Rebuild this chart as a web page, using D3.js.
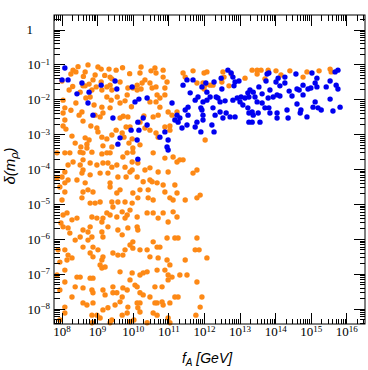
<!DOCTYPE html>
<html>
<head>
<meta charset="utf-8">
<script src="https://cdn.jsdelivr.net/npm/d3@7"></script>
<style>
  body { margin: 0; background: #fff; }
</style>
</head>
<body>
<svg id="chart" width="368" height="370"></svg>
<script>
// tick exponents
const xTickExps = [8, 9, 10, 11, 12, 13, 14, 15, 16];
const yTickExps = [0, -1, -2, -3, -4, -5, -6, -7, -8];

// [log10 fA, log10 delta]
const orangePoints = [
  [8.00,-1.46],[8.20,-1.72],[8.31,-1.15],[8.25,-1.26],[8.39,-1.20],[8.65,-1.20],[8.73,-1.00],[8.93,-1.29],[8.87,-1.43],[9.01,-1.06],
  [9.10,-1.12],[9.32,-1.12],[9.52,-1.15],[8.76,-1.55],[8.65,-1.60],[8.79,-1.92],[8.67,-1.95],[8.51,-1.78],[8.39,-2.09],[8.56,-2.35],
  [8.48,-2.44],[8.59,-2.61],[8.81,-2.75],[8.98,-2.81],[8.93,-2.44],[9.07,-2.49],[9.15,-2.38],[9.12,-2.21],[9.35,-2.23],[9.38,-2.01],
  [9.26,-1.92],[9.12,-1.72],[9.10,-1.49],[9.26,-1.63],[9.40,-1.72],[9.35,-1.58],[8.96,-1.63],[8.84,-1.72],[8.08,-2.58],[8.03,-2.75],
  [8.11,-2.84],[8.28,-3.04],[8.65,-3.09],[8.70,-3.27],[8.70,-3.38],[8.84,-3.50],[9.12,-3.07],[9.15,-3.32],[9.12,-3.55],[9.26,-3.52],
  [9.40,-3.35],[9.71,-3.64],[9.83,-3.52],[9.88,-3.24],[9.97,-3.12],[10.19,-3.29],[9.99,-3.38],[9.74,-3.07],[9.69,-2.95],[9.63,-2.52],
  [9.85,-2.49],[9.72,-2.47],[9.91,-2.78],[9.80,-2.78],[9.63,-2.09],[9.77,-2.03],[9.83,-1.86],[9.85,-1.66],[9.99,-1.66],[10.11,-1.58],
  [10.19,-1.23],[10.22,-1.06],[10.25,-1.52],[10.22,-1.69],[10.33,-1.43],[10.47,-1.52],[10.53,-1.66],[10.64,-1.63],[10.67,-1.86],[10.75,-1.95],
  [10.64,-2.06],[10.47,-2.06],[10.50,-1.17],[10.61,-1.09],[10.64,-1.23],[10.84,-1.15],[10.84,-1.35],[10.95,-1.49],[10.89,-1.66],[10.89,-1.86],
  [10.75,-2.21],[10.70,-2.44],[10.56,-2.49],[10.30,-2.46],[10.19,-2.64],[10.33,-2.81],[10.47,-2.87],[10.64,-2.95],[10.70,-3.07],[10.98,-2.35],
  [10.89,-2.78],[11.03,-2.75],[11.03,-2.87],[11.09,-2.44],[11.23,-2.35],[11.40,-1.23],[11.46,-1.35],[11.68,-1.17],[11.79,-1.52],[11.99,-1.23],
  [12.02,-1.58],[9.52,-2.87],[9.40,-3.01],[9.26,-3.12],[9.01,-2.92],[8.76,-3.15],[8.53,-3.35],[8.37,-3.24],[8.22,-3.52],[8.08,-3.52],
  [10.11,-1.72],[9.35,-1.35],[9.40,-1.40],[9.63,-1.49],[8.03,-2.01],[8.08,-2.23],[8.03,-2.38],[8.59,-1.60],
  [8.45,-1.05],[8.60,-1.33],[9.20,-1.30],[9.70,-1.08],[9.90,-1.25],[8.30,-1.62],[9.55,-1.92],[9.95,-2.20],[8.90,-2.15],[8.25,-2.30],
  [12.07,-1.20],[11.96,-1.52],[11.99,-1.69],[12.16,-1.58],[12.24,-1.58],[12.52,-1.20],[12.49,-1.49],[12.55,-1.35],[12.75,-1.26],[12.69,-1.60],
  [13.14,-1.38],[13.34,-1.15],[13.48,-1.15],[13.59,-1.15],[13.48,-1.26],[13.70,-1.40],[13.79,-1.15],[14.01,-1.17],[14.15,-1.29],[14.40,-1.17],
  [14.77,-1.35],[14.88,-1.20],[15.22,-1.17],[15.53,-1.12],[15.56,-1.20],[12.02,-3.15],
  [7.86,-3.52],[8.51,-3.50],[8.59,-3.52],[9.35,-3.52],[9.99,-3.50],[10.56,-3.52],[10.89,-3.67],[11.12,-3.64],[11.31,-3.72],[9.97,-3.78],
  [10.13,-3.81],[9.15,-3.81],[8.59,-3.72],[8.31,-3.78],[8.17,-3.87],[8.51,-3.87],[8.79,-3.81],[8.98,-3.87],[9.29,-3.81],[9.40,-3.93],
  [9.54,-3.87],[9.77,-3.93],[9.97,-4.01],[9.91,-4.07],[10.33,-4.01],[10.47,-3.95],[10.70,-4.07],[10.98,-4.07],[11.23,-3.78],[11.40,-3.72],
  [11.68,-4.10],[11.79,-4.01],[8.08,-4.07],[8.00,-4.21],[8.59,-4.01],[8.56,-4.10],[8.79,-4.15],[9.07,-4.10],[9.29,-4.10],[9.57,-4.21],
  [9.80,-4.21],[10.11,-4.21],[8.17,-4.30],[8.42,-4.30],[7.86,-4.24],[8.08,-4.38],[7.94,-4.50],[8.08,-4.64],[8.00,-4.87],[8.65,-4.38],
  [8.73,-4.58],[8.59,-4.64],[8.56,-4.81],[8.87,-4.64],[8.93,-4.96],[9.07,-4.93],[9.35,-4.38],[9.35,-4.50],[9.54,-4.67],[9.63,-4.58],
  [9.40,-4.93],[9.43,-5.07],[9.57,-4.93],[9.77,-4.93],[9.97,-4.96],[9.99,-4.67],[10.19,-4.58],[10.13,-4.81],[10.28,-4.35],[10.47,-4.30],
  [10.53,-4.35],[10.67,-4.38],[10.42,-4.58],[10.42,-4.81],[10.56,-4.87],[10.84,-4.44],[10.89,-4.64],[11.17,-4.44],[11.03,-4.81],[11.12,-4.87],
  [11.23,-4.67],[11.46,-4.87],[11.88,-4.73],[11.79,-4.81],[8.14,-5.24],[8.03,-5.30],[8.42,-5.39],[8.84,-5.36],[8.98,-5.39],[9.12,-5.50],
  [9.15,-5.39],[9.26,-5.24],[9.35,-5.30],[9.54,-5.36],[9.69,-5.21],[9.91,-5.16],[9.83,-5.30],[9.77,-5.39],[10.11,-5.36],[10.39,-5.24],
  [10.56,-5.24],[10.70,-5.39],[10.84,-5.24],[11.12,-5.21],[11.23,-5.36],[10.98,-5.50],[8.79,-4.96],[8.28,-5.44],[8.03,-5.64],[8.17,-5.67],
  [8.22,-5.82],[8.37,-6.02],[8.59,-5.73],[8.51,-5.93],[8.59,-6.22],[8.73,-5.79],[8.79,-5.64],[8.73,-6.02],[8.84,-5.93],[9.12,-5.79],
  [9.15,-5.93],[9.29,-5.64],[9.57,-5.73],[9.69,-5.87],[9.85,-5.67],[10.11,-5.64],[10.13,-5.73],[9.99,-6.07],[9.91,-6.16],[9.99,-6.25],
  [9.77,-6.30],[9.57,-6.45],[10.19,-6.30],[10.39,-6.30],[10.56,-6.07],[10.67,-6.22],[10.75,-6.22],[10.95,-5.96],[11.17,-5.96],[11.26,-5.96],
  [11.79,-5.96],[11.74,-6.30],[11.85,-6.30],[12.07,-6.53],[11.46,-6.59],[8.08,-6.30],[8.17,-6.45],[8.28,-6.53],[8.14,-6.59],[8.87,-6.22],
  [9.01,-6.30],[8.79,-6.39],[8.87,-6.50],[9.12,-6.59],[9.15,-6.50],[9.43,-6.39],[9.71,-6.45],[10.47,-6.50],[10.70,-6.53],[10.95,-6.59],
  [11.03,-6.73],[8.08,-6.88],[8.42,-7.08],[8.37,-7.36],[8.51,-7.08],[8.79,-7.11],[8.87,-7.11],[9.07,-6.73],[9.12,-6.82],[9.21,-6.79],
  [9.63,-6.93],[9.97,-6.96],[9.91,-7.16],[10.05,-7.31],[10.19,-7.02],[10.28,-6.96],[10.39,-6.93],[10.67,-6.88],[10.89,-6.88],[10.98,-7.02],
  [11.09,-7.08],[10.98,-7.16],[11.31,-7.02],[11.51,-7.02],[11.79,-7.22],[8.08,-7.22],[7.94,-7.45],[8.28,-7.65],[8.59,-7.39],[8.84,-7.45],
  [8.87,-7.53],[8.59,-7.82],[8.70,-7.88],[8.87,-7.82],[9.15,-7.45],[9.21,-7.59],[9.43,-7.36],[9.43,-7.53],[9.54,-7.53],[9.71,-7.39],
  [9.83,-7.45],[9.69,-7.65],[9.49,-7.88],[9.85,-7.94],[10.11,-7.36],[10.19,-7.53],[10.28,-7.59],[10.19,-7.82],[10.61,-7.36],[10.81,-7.36],
  [10.67,-7.82],[10.84,-7.88],[11.03,-7.82],[11.26,-7.65],[11.17,-7.65],[11.93,-7.65],[11.88,-7.94],[10.13,-7.96],[8.08,-7.94],[10.47,-7.65],
  [8.08,-8.11],[8.84,-8.39],[8.84,-8.17],[8.98,-8.17],[9.15,-8.02],[9.07,-8.25],[9.29,-7.96],[9.35,-8.39],[9.40,-8.31],[9.63,-7.79],
  [9.69,-8.17],[9.83,-8.11],[9.91,-8.36],[10.02,-8.31],[10.11,-7.82],[10.19,-8.08],[10.39,-8.39],[10.56,-8.11],[10.61,-7.82],[10.67,-8.17],
  [10.81,-7.79],[10.98,-8.25],[11.03,-8.39],[11.76,-8.17],[7.94,-8.31],[7.97,-5.53],[7.89,-6.30],[7.86,-7.02],[7.94,-6.65]
];

const bluePoints = [
  [8.08,-1.09],[8.00,-1.43],[8.42,-1.83],[8.56,-1.52],[8.76,-1.78],[9.10,-1.58],[9.49,-1.46],[9.54,-1.69],[9.97,-1.63],[10.05,-2.06],
  [10.16,-1.98],[10.39,-1.95],[10.28,-2.52],[10.39,-2.72],[10.13,-2.64],[10.16,-2.87],[9.94,-2.87],[9.63,-3.09],[9.57,-3.27],[10.11,-3.15],
  [9.43,-2.52],[8.87,-2.44],[11.09,-2.09],[11.23,-2.44],[11.26,-2.64],[11.17,-2.58],[11.37,-2.81],[11.31,-2.52],[10.89,-2.92],[10.75,-3.07],
  [10.98,-3.15],[10.95,-3.35],[11.40,-1.58],[11.51,-1.43],[11.60,-1.80],[11.74,-2.01],[11.82,-1.92],[11.96,-2.06],[11.54,-2.21],[11.46,-2.29],
  [11.93,-2.29],[11.96,-2.44],[11.54,-2.44],[11.51,-2.72],[11.74,-2.78],[11.79,-2.64],[11.96,-2.58],[12.07,-2.01],[10.13,-3.70],[10.98,-3.44],
  [11.68,-1.43],[8.17,-1.43],[8.73,-2.09],
  [12.04,-1.52],[12.27,-1.49],[12.47,-1.38],[12.66,-1.15],[12.75,-1.23],[12.80,-1.35],[12.86,-1.49],[12.97,-1.46],[12.83,-1.60],[12.49,-1.69],
  [12.07,-1.78],[12.33,-1.92],[12.38,-1.95],[12.58,-2.03],[12.80,-2.01],[12.92,-1.95],[13.14,-1.95],[13.22,-1.80],[13.28,-1.72],[13.37,-1.78],
  [13.42,-1.92],[13.53,-1.63],[13.62,-1.83],[13.48,-2.06],[13.62,-2.09],[13.08,-2.15],[13.22,-2.23],[13.34,-2.35],[13.37,-2.44],[13.25,-2.64],
  [13.34,-2.64],[13.56,-2.64],[13.51,-2.38],[13.70,-2.23],[13.81,-2.23],[13.84,-2.38],[14.04,-2.38],[14.04,-2.52],[13.76,-1.26],[13.81,-1.23],
  [13.73,-1.46],[13.84,-1.72],[14.01,-1.49],[14.07,-1.38],[14.12,-1.60],[14.04,-1.86],[13.93,-1.92],[14.12,-1.89],[14.26,-1.52],[14.26,-1.35],
  [14.38,-1.75],[14.46,-1.89],[14.60,-1.69],[14.66,-1.72],[14.57,-1.26],[14.77,-1.58],[14.77,-1.86],[14.60,-2.12],[14.71,-2.29],[14.69,-2.38],
  [14.32,-2.29],[14.35,-2.52],[14.88,-2.49],[14.91,-1.69],[14.99,-1.66],[15.11,-1.52],[15.16,-1.38],[15.02,-1.23],[15.11,-2.06],[15.19,-2.23],
  [15.28,-2.29],[15.05,-2.21],[15.53,-1.46],[15.67,-1.20],[15.75,-1.15],[15.70,-1.58],[15.75,-1.69],[15.53,-1.98],[15.61,-2.32],[15.81,-2.21],
  [15.42,-1.63],[15.16,-1.63],[12.24,-2.23],[12.21,-2.72],[12.27,-2.92],[11.90,-2.92],[12.44,-2.35],[12.30,-2.44],[12.61,-2.38],[12.72,-2.49],
  [12.52,-2.52],[12.86,-2.49],[13.25,-2.38],[13.79,-1.95],[13.00,-2.06],[13.03,-1.92],[13.25,-1.92],[12.44,-2.06],[12.16,-1.92],[11.93,-1.63],
  [11.90,-2.23]
];

const orangeColor = "#fd8916",
  blueColor = "#0000f0";
const plot = { left: 54, right: 365, top: 15, bottom: 324 };
const dotRadius = 2.7,
  majorLen = 11,
  minorLen = 5.5;

const $svg = d3.select("#chart");

const x = d3
  .scaleLog()
  .domain([10 ** 7.775, 10 ** 16.51])
  .range([plot.left, plot.right]);
const y = d3
  .scaleLog()
  .domain([10 ** -8.424, 10 ** 0.43])
  .range([plot.bottom, plot.top]);

// all log ticks (1..9 x 10^k) inside the domain, flagged major for m == 1
function logTicks(scale) {
  const [a, b] = d3.extent(scale.domain());
  const out = [];
  for (let k = Math.floor(Math.log10(a)); k <= Math.ceil(Math.log10(b)); k++) {
    for (let m = 1; m <= 9; m++) {
      const v = m * 10 ** k;
      if (v >= a && v <= b) out.push({ v, major: m === 1, exp: k });
    }
  }
  return out;
}

const xTicks = logTicks(x),
  yTicks = logTicks(y);

// points
const dots = $svg.append("g");
dots
  .selectAll("circle.orange")
  .data(orangePoints)
  .join("circle")
  .attr("class", "orange")
  .attr("cx", (d) => x(10 ** d[0]))
  .attr("cy", (d) => y(10 ** d[1]))
  .attr("r", dotRadius)
  .attr("fill", orangeColor);
dots
  .selectAll("circle.blue")
  .data(bluePoints)
  .join("circle")
  .attr("class", "blue")
  .attr("cx", (d) => x(10 ** d[0]))
  .attr("cy", (d) => y(10 ** d[1]))
  .attr("r", dotRadius)
  .attr("fill", blueColor);

// inward ticks on all four sides, as thin filled bars
const ticks = $svg.append("g").attr("fill", "#000").attr("shape-rendering", "crispEdges");
const tickLen = (d) => (d.major ? majorLen : minorLen);
ticks
  .selectAll("rect.xb")
  .data(xTicks)
  .join("rect")
  .attr("class", "xb")
  .attr("x", (d) => x(d.v) - 0.5)
  .attr("y", (d) => plot.bottom - tickLen(d))
  .attr("width", 1)
  .attr("height", tickLen);
ticks
  .selectAll("rect.xt")
  .data(xTicks)
  .join("rect")
  .attr("class", "xt")
  .attr("x", (d) => x(d.v) - 0.5)
  .attr("y", plot.top)
  .attr("width", 1)
  .attr("height", tickLen);
ticks
  .selectAll("rect.yl")
  .data(yTicks)
  .join("rect")
  .attr("class", "yl")
  .attr("x", plot.left)
  .attr("y", (d) => y(d.v) - 0.5)
  .attr("width", tickLen)
  .attr("height", 1);
ticks
  .selectAll("rect.yr")
  .data(yTicks)
  .join("rect")
  .attr("class", "yr")
  .attr("x", (d) => plot.right - tickLen(d))
  .attr("y", (d) => y(d.v) - 0.5)
  .attr("width", tickLen)
  .attr("height", 1);

// frame
$svg
  .append("rect")
  .attr("x", plot.left)
  .attr("y", plot.top)
  .attr("width", plot.right - plot.left)
  .attr("height", plot.bottom - plot.top)
  .attr("fill", "none")
  .attr("stroke", "#000")
  .attr("stroke-width", 1);

// 10^n labels
function powerLabel(text, exp) {
  text.append("tspan").text("10");
  text
    .append("tspan")
    .attr("dy", -4.5)
    .attr("font-size", 9)
    .text(String(exp).replace("-", "\u2212"));
}

$svg
  .append("g")
  .selectAll("text")
  .data(xTicks.filter((t) => t.major && xTickExps.includes(t.exp)))
  .join("text")
  .attr("font-family", "Liberation Serif")
  .attr("font-size", 13)
  .attr("fill", "#000")
  .attr("x", (d) => x(d.v))
  .attr("y", plot.bottom + 12)
  .attr("text-anchor", "middle")
  .each(function (d) {
    powerLabel(d3.select(this), d.exp);
  });

$svg
  .append("g")
  .selectAll("text")
  .data(yTicks.filter((t) => t.major && yTickExps.includes(t.exp)))
  .join("text")
  .attr("font-family", "Liberation Serif")
  .attr("font-size", 13)
  .attr("fill", "#000")
  .attr("x", (d) => (d.exp === 0 ? plot.left - 21 : plot.left - 4))
  .attr("y", (d) => y(d.v) + 4.3)
  .attr("text-anchor", "end")
  .each(function (d) {
    if (d.exp === 0) d3.select(this).text("1");
    else powerLabel(d3.select(this), d.exp);
  });

// axis titles
const xTitle = $svg
  .append("text")
  .attr("x", 207)
  .attr("y", 363)
  .attr("text-anchor", "middle")
  .attr("font-family", "Liberation Sans")
  .attr("font-style", "italic")
  .attr("font-size", 14)
  .attr("fill", "#000");
xTitle.append("tspan").text("f");
xTitle.append("tspan").attr("dy", 3).attr("font-size", 10).text("A");
xTitle.append("tspan").attr("dy", -3).text(" [GeV]");

const yTitle = $svg
  .append("text")
  .attr("transform", "translate(15,166) rotate(-90)")
  .attr("text-anchor", "middle")
  .attr("font-family", "Liberation Sans")
  .attr("font-style", "italic")
  .attr("font-size", 15)
  .attr("fill", "#000");
yTitle.append("tspan").text("\u03b4(m");
yTitle.append("tspan").attr("dy", 3).attr("font-size", 11).text("\u03c1");
yTitle.append("tspan").attr("dy", -3).text(")");
</script>
</body>
</html>
